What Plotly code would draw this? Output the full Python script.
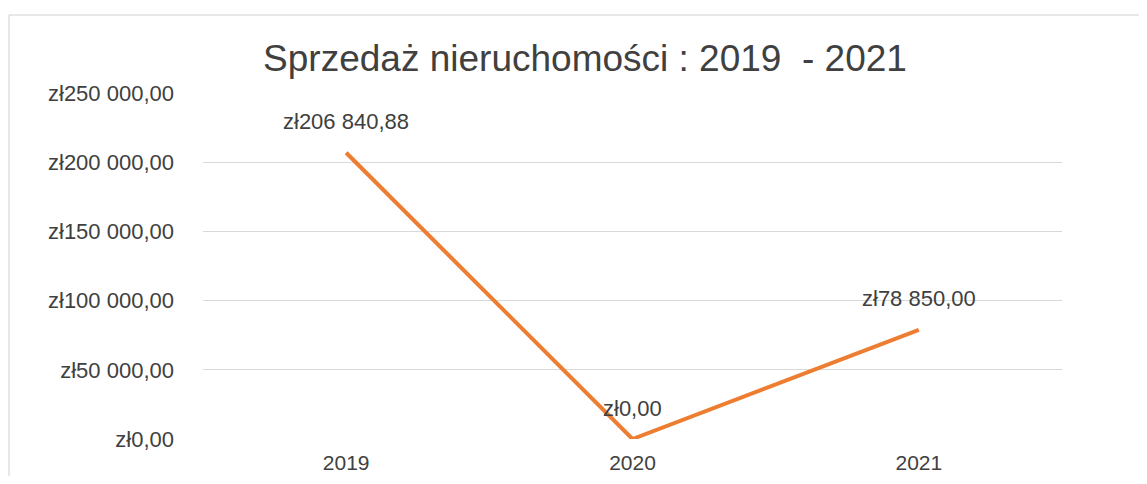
import plotly.graph_objects as go

years = ["2019", "2020", "2021"]
sales = [206840.88, 0.0, 78850.00]
y_ticks = [0, 50000, 100000, 150000, 200000, 250000]
y_tick_labels = ["zł0,00", "zł50 000,00", "zł100 000,00", "zł150 000,00", "zł200 000,00", "zł250 000,00"]


def fmt_pln(v):
    whole, frac = f"{v:,.2f}".split(".")
    return "zł" + whole.replace(",", " ") + "," + frac


# strona ma 8px marginesu body, więc figura jest o 16px mniejsza od okna
W, H = 1131, 468
OFF = 8

fig = go.Figure()
fig.add_trace(go.Scatter(
    x=years,
    y=sales,
    mode="lines",
    line=dict(color="#ED7D31", width=4),
    cliponaxis=False,
    showlegend=False,
))

# etykiety danych nad punktami (oś kategorii -> numer kategorii)
for i, v in enumerate(sales):
    fig.add_annotation(
        x=i, y=v, text=fmt_pln(v),
        showarrow=False, yshift=31, yanchor="middle",
        font=dict(size=22, color="#404040"),
    )

fig.update_layout(
    width=W,
    height=H,
    margin=dict(l=203 - OFF, r=W + OFF - 1062, t=93 - OFF, b=H + OFF - 439),
    paper_bgcolor="white",
    plot_bgcolor="white",
    font=dict(family="Liberation Sans, Arial, sans-serif", color="#404040"),
    title=dict(
        text="Sprzedaż nieruchomości : 2019  - 2021",
        x=(585 - OFF) / W, xref="container", xanchor="center",
        y=1 - (58 - OFF) / H, yref="container", yanchor="middle",
        font=dict(size=37, color="#404040"),
    ),
    xaxis=dict(
        type="category",
        range=[-0.5, 2.5],
        showgrid=False,
        showline=False,
        zeroline=False,
        ticks="",
        tickfont=dict(size=21, color="#404040"),
        ticklabelstandoff=9,
        automargin=False,
    ),
    yaxis=dict(
        range=[0, 250000],
        tickvals=y_ticks,
        ticktext=y_tick_labels,
        showgrid=True,
        gridcolor="#d9d9d9",
        gridwidth=1,
        zeroline=False,
        showline=False,
        ticks="",
        tickfont=dict(size=22, color="#404040"),
        ticklabelstandoff=28,
        automargin=False,
    ),
    shapes=[dict(
        type="rect", xref="paper", yref="paper",
        x0=(9 - 203) / 859, x1=1.2, y0=-0.3, y1=(439 - 15) / 346,
        line=dict(color="#d0d0d0", width=1),
        layer="below",
    )],
)

fig.write_html("out.html")
